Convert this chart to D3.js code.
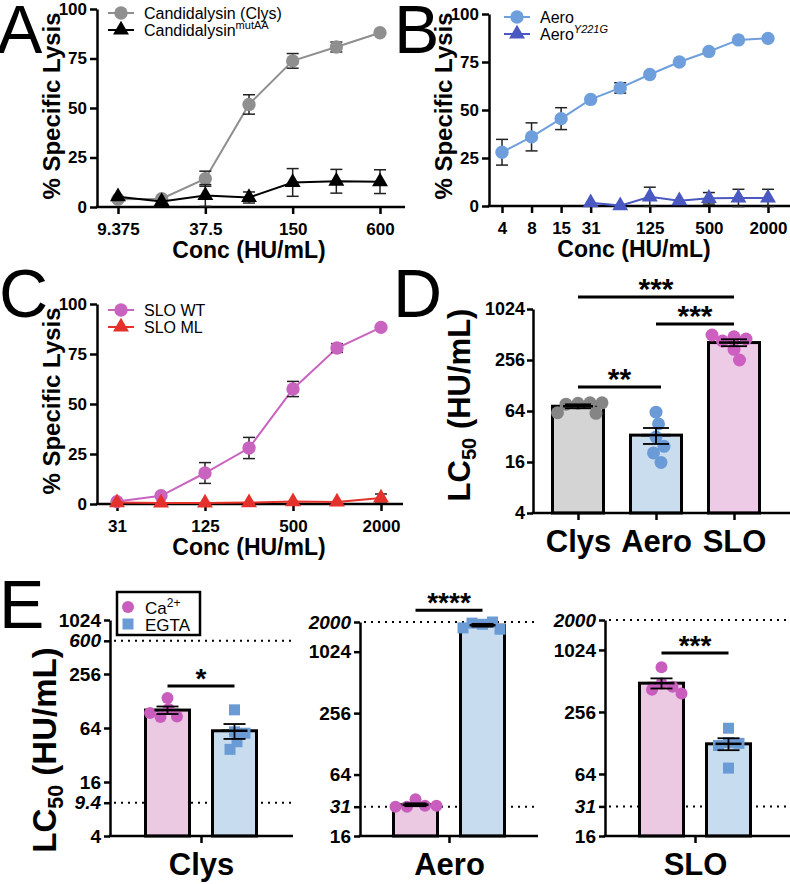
<!DOCTYPE html>
<html>
<head>
<meta charset="utf-8">
<script src="https://cdn.jsdelivr.net/npm/d3@7"></script>
<style>
body { margin: 0; background: #fff; }
svg { display: block; }
</style>
</head>
<body>
<script>
var FONT = "'Liberation Sans', Arial, Helvetica, sans-serif";

// ---------- A: candidalysin
var concA = [9.375, 18.75, 37.5, 75, 150, 300, 600];
var ticksA = [9.375, 37.5, 150, 600];
var tickLabelsA = ["9.375", "37.5", "150", "600"];
var clysLysis = [3.9, 4.2, 14.3, 51.8, 73.8, 80.8, 88];
var clysSem = [0.8, 1, 3.8, 4.9, 3.7, 2.5, 1];
var mutAALysis = [5.2, 2.8, 5.8, 4.8, 12.4, 13, 12.8];
var mutAASem = [1, 0.6, 5.5, 2.8, 7, 6, 6];

// ---------- B: aerolysin
var concB = [3.90625, 7.8125, 15.625, 31.25, 62.5, 125, 250, 500, 1000, 2000];
var ticksB = [3.90625, 7.8125, 15.625, 31.25, 125, 500, 2000];
var tickLabelsB = ["4", "8", "15", "31", "125", "500", "2000"];
var aeroLysis = [28, 36, 45.5, 55.5, 61.5, 68.5, 75, 80.5, 86.5, 87.3];
var aeroSem = [6.7, 7.3, 5.7, 1, 2.7, 1, 1, 1, 1, 1];
var concY221G = [31.25, 62.5, 125, 250, 500, 1000, 2000];
var y221gLysis = [1.7, 0.2, 4.8, 2.8, 4, 4.2, 4.2];
var y221gSem = [0.5, 0.3, 5, 0.5, 3, 4.5, 4.5];

// ---------- C: streptolysin O
var concC = [31.25, 62.5, 125, 250, 500, 1000, 2000];
var ticksC = [31.25, 125, 500, 2000];
var tickLabelsC = ["31", "125", "500", "2000"];
var sloWtLysis = [1.2, 4.1, 15.5, 28, 57.5, 78, 88.3];
var sloWtSem = [0.5, 0.8, 5.2, 5.3, 3.8, 2.2, 1];
var sloMlLysis = [0.7, 0.5, 0.5, 0.7, 1.2, 1, 3];
var sloMlSem = [0.3, 0.3, 0.3, 0.5, 0.8, 0.5, 2];

var lysisTicks = [0, 25, 50, 75, 100];

// ---------- D: LC50 per toxin
var dGroups = ["Clys", "Aero", "SLO"];
var dClys = [79, 80, 77, 80, 61, 60];
var dAero = [62, 45, 31.5, 24.5, 20.5, 15.8];
var dSLO = [482, 453, 429, 505, 342, 256];
var dTicks = [4, 16, 64, 256, 1024];

// ---------- E: LC50 with Ca2+ vs EGTA
var eGroups = ["Ca2+", "EGTA"];
var eClysCa = [138, 104, 85, 86, 94];
var eClysEgta = [102, 58, 56, 45, 37];
var eAeroCa = [36.6, 31.7, 31, 31, 31.7];
var eAeroEgta = [1900, 2000, 1950, 1700, 1750];
var eSloCa = [697, 484, 450, 420, 386];
var eSloEgta = [178, 129, 127, 121, 73];
var eClysTicks = [4, 9.4, 16, 64, 256, 600, 1024];
var eClysTickLabels = ["4", "9.4", "16", "64", "256", "600", "1024"];
var eToxTicks = [16, 31, 64, 256, 1024, 2000];
var eToxTickLabels = ["16", "31", "64", "256", "1024", "2000"];

var svg = d3.select("body").append("svg")
  .attr("width", 790).attr("height", 884)
  .attr("font-family", FONT);

function styleAxis(sel, fs) {
  sel.attr("font-family", FONT).attr("font-size", fs).attr("font-weight", "bold");
  sel.selectAll("line").attr("stroke", "#000").attr("stroke-width", 2.5);
  sel.selectAll("path").attr("stroke", "#000").attr("stroke-width", 2.5);
  sel.selectAll("text").attr("fill", "#000");
}

function letter(t, x, y) {
  svg.append("text").attr("x", x).attr("y", y)
    .attr("font-size", 68).text(t);
}

function hline(x1, x2, y, w) {
  svg.append("line").attr("x1", x1).attr("x2", x2).attr("y1", y).attr("y2", y)
    .attr("stroke", "#000").attr("stroke-width", w || 2.5);
}

// line (dose-response) panel
function linePanel(p) {
  var g = svg.append("g");
  var x = d3.scaleLog().base(2).domain(p.dom).range([p.xFirst, p.xLast]);
  var y = d3.scaleLinear().domain([0, 100]).range([p.y0, p.y100]);

  var xa = g.append("g").attr("transform", "translate(0," + p.y0 + ")")
    .call(d3.axisBottom(x).tickValues(p.ticks)
      .tickFormat(function (d, i) { return p.labels[i]; })
      .tickSize(7).tickPadding(9));
  xa.select(".domain").remove();
  styleAxis(xa, 17);
  g.append("line").attr("x1", p.ax - 1.25).attr("x2", p.xEnd)
    .attr("y1", p.y0).attr("y2", p.y0).attr("stroke", "#000").attr("stroke-width", 2.5);

  var ya = g.append("g").attr("transform", "translate(" + p.ax + ",0)")
    .call(d3.axisLeft(y).tickValues(lysisTicks).tickSize(7).tickSizeOuter(0).tickPadding(3));
  styleAxis(ya, 17);

  p.series.forEach(function (s) {
    var pts = s.conc.map(function (c, i) { return { c: c, m: s.mean[i], e: s.err[i] }; });
    g.append("path").datum(pts)
      .attr("d", d3.line().x(function (d) { return x(d.c); }).y(function (d) { return y(d.m); }))
      .attr("fill", "none").attr("stroke", s.color).attr("stroke-width", 2);
    var eb = g.append("g").attr("stroke", "#222").attr("stroke-width", 1.5);
    pts.filter(function (d) { return d.e > 1.5; }).forEach(function (d) {
      var cx = x(d.c);
      eb.append("line").attr("x1", cx).attr("x2", cx).attr("y1", y(d.m - d.e)).attr("y2", y(d.m + d.e));
      eb.append("line").attr("x1", cx - 6).attr("x2", cx + 6).attr("y1", y(d.m - d.e)).attr("y2", y(d.m - d.e));
      eb.append("line").attr("x1", cx - 6).attr("x2", cx + 6).attr("y1", y(d.m + d.e)).attr("y2", y(d.m + d.e));
    });
    g.append("g").selectAll("path").data(pts).enter().append("path")
      .attr("transform", function (d) { return "translate(" + x(d.c) + "," + y(d.m) + ")"; })
      .attr("d", d3.symbol().type(s.shape).size(s.size))
      .attr("fill", s.color);
  });

  // legend
  p.series.forEach(function (s, i) {
    var ly = p.legY + i * 17;
    g.append("line").attr("x1", p.legX - 13).attr("x2", p.legX + 13).attr("y1", ly).attr("y2", ly)
      .attr("stroke", s.color).attr("stroke-width", 2);
    g.append("path").attr("transform", "translate(" + p.legX + "," + ly + ")")
      .attr("d", d3.symbol().type(s.shape).size(s.size)).attr("fill", s.color);
    var t = g.append("text").attr("x", p.legX + 23).attr("y", ly + 6).attr("font-size", 16);
    t.append("tspan").text(s.name);
    if (s.sup) {
      t.append("tspan").attr("dy", -7).attr("font-size", 11)
        .attr("font-style", s.supItalic ? "italic" : null).text(s.sup);
    }
  });

  g.append("text").attr("transform", "translate(" + p.ylabX + "," + p.ylabY + ") rotate(-90)")
    .attr("text-anchor", "middle").attr("font-size", 24).attr("font-weight", "bold")
    .text("% Specific Lysis");
  g.append("text").attr("x", p.xlabX).attr("y", p.y0 + 51)
    .attr("text-anchor", "middle").attr("font-size", 23).attr("font-weight", "bold")
    .text("Conc (HU/mL)");
}

// simple beeswarm: keep the y from the value, push x sideways until points do not overlap
function swarm(vals, y, cx, r) {
  var placed = [];
  return vals.map(function (v) {
    var yy = y(v), dx = 0;
    for (var k = 0; k < 400; k++) {
      dx = (k % 2 ? 1 : -1) * Math.ceil(k / 2) * 0.5;
      var ok = placed.every(function (q) {
        return Math.hypot(q.x - (cx + dx), q.y - yy) >= 2 * r * 0.92;
      });
      if (ok) break;
    }
    var pt = { x: cx + dx, y: yy, v: v };
    placed.push(pt);
    return pt;
  });
}

function sem(vals) { return d3.deviation(vals) / Math.sqrt(vals.length); }

function barWithPoints(g, vals, cx, y, yBase, bw, fill, ptColor, shape, r, capW) {
  var m = d3.mean(vals), e = sem(vals);
  g.append("rect").attr("x", cx - bw / 2).attr("width", bw)
    .attr("y", y(m)).attr("height", yBase - y(m))
    .attr("fill", fill).attr("stroke", "#000").attr("stroke-width", 3);
  var pts = swarm(vals, y, cx, r);
  if (shape === "square") {
    g.append("g").selectAll("rect").data(pts).enter().append("rect")
      .attr("x", function (d) { return d.x - r; }).attr("y", function (d) { return d.y - r; })
      .attr("width", 2 * r).attr("height", 2 * r).attr("fill", ptColor);
  } else {
    g.append("g").selectAll("circle").data(pts).enter().append("circle")
      .attr("cx", function (d) { return d.x; }).attr("cy", function (d) { return d.y; })
      .attr("r", r).attr("fill", ptColor);
  }
  var eg = g.append("g").attr("stroke", "#000").attr("stroke-width", 1.8);
  eg.append("line").attr("x1", cx).attr("x2", cx).attr("y1", y(m - e)).attr("y2", y(m + e));
  eg.append("line").attr("x1", cx - capW / 2).attr("x2", cx + capW / 2).attr("y1", y(m - e)).attr("y2", y(m - e));
  eg.append("line").attr("x1", cx - capW / 2).attr("x2", cx + capW / 2).attr("y1", y(m + e)).attr("y2", y(m + e));
  eg.append("line").attr("x1", cx - capW / 2 - 2).attr("x2", cx + capW / 2 + 2).attr("y1", y(m)).attr("y2", y(m))
    .attr("stroke-width", 2.5);
}

function sigBar(g, x1, x2, yy, label, fs) {
  g.append("line").attr("x1", x1).attr("x2", x2).attr("y1", yy).attr("y2", yy)
    .attr("stroke", "#000").attr("stroke-width", 3);
  g.append("text").attr("x", (x1 + x2) / 2).attr("y", yy + 2)
    .attr("text-anchor", "middle").attr("font-size", fs).attr("font-weight", "bold").text(label);
}

function lcLabel(x, y, fs) {
  var t = svg.append("text").attr("transform", "translate(" + x + "," + y + ") rotate(-90)")
    .attr("text-anchor", "middle").attr("font-size", fs).attr("font-weight", "bold");
  t.append("tspan").text("LC");
  t.append("tspan").attr("font-size", fs * 0.65).attr("dy", fs * 0.2).text("50");
  t.append("tspan").attr("dy", -fs * 0.2).text(" (HU/mL)");
}

// ---------- Panels A-C
linePanel({
  dom: [9.375, 600], xFirst: 118, xLast: 380, ax: 97, xEnd: 405, y0: 207, y100: 9,
  ticks: ticksA, labels: tickLabelsA, legX: 121, legY: 13,
  ylabX: 60, ylabY: 106, xlabX: 249,
  series: [
    { name: "Candidalysin (Clys)", conc: concA, mean: clysLysis, err: clysSem, color: "#8f8f8f", shape: d3.symbolCircle, size: 140 },
    { name: "Candidalysin", sup: "mutAA", conc: concA, mean: mutAALysis, err: mutAASem, color: "#000", shape: d3.symbolTriangle, size: 110 }
  ]
});
linePanel({
  dom: [3.90625, 2000], xFirst: 502, xLast: 768, ax: 489, xEnd: 790, y0: 206, y100: 14,
  ticks: ticksB, labels: tickLabelsB, legX: 517, legY: 17,
  ylabX: 452, ylabY: 106, xlabX: 634,
  series: [
    { name: "Aero", conc: concB, mean: aeroLysis, err: aeroSem, color: "#6e9fdc", shape: d3.symbolCircle, size: 140 },
    { name: "Aero", sup: "Y221G", supItalic: true, conc: concY221G, mean: y221gLysis, err: y221gSem, color: "#4a58c2", shape: d3.symbolTriangle, size: 110 }
  ]
});
linePanel({
  dom: [31.25, 2000], xFirst: 117, xLast: 381, ax: 97, xEnd: 403, y0: 504, y100: 304,
  ticks: ticksC, labels: tickLabelsC, legX: 121, legY: 310,
  ylabX: 60, ylabY: 401, xlabX: 249,
  series: [
    { name: "SLO WT", conc: concC, mean: sloWtLysis, err: sloWtSem, color: "#c963c0", shape: d3.symbolCircle, size: 140 },
    { name: "SLO ML", conc: concC, mean: sloMlLysis, err: sloMlSem, color: "#e5312b", shape: d3.symbolTriangle, size: 110 }
  ]
});

// ---------- Panel D
(function () {
  var g = svg.append("g");
  var y = d3.scaleLog().base(2).domain([4, 1024]).range([513, 309]);
  var x = d3.scalePoint().domain(dGroups).range([578, 734]);
  var ya = g.append("g").attr("transform", "translate(533,0)")
    .call(d3.axisLeft(y).tickValues(dTicks).tickFormat(d3.format("d")).tickSize(6).tickSizeOuter(0).tickPadding(2));
  styleAxis(ya, 18);
  var fills = ["#d4d4d4", "#c9ddef", "#edcae5"];
  var cols = ["#858585", "#6b9bd6", "#cc5fbf"];
  [dClys, dAero, dSLO].forEach(function (vals, i) {
    barWithPoints(g, vals, x(dGroups[i]), y, 513, 51, fills[i], cols[i], "circle", 6.5, 26);
  });
  var xa = g.append("g").attr("transform", "translate(0,513)")
    .call(d3.axisBottom(x).tickSize(7).tickPadding(10));
  xa.select(".domain").remove();
  styleAxis(xa, 31);
  g.append("line").attr("x1", 531.75).attr("x2", 790).attr("y1", 513).attr("y2", 513)
    .attr("stroke", "#000").attr("stroke-width", 2.5);
  sigBar(g, x("Clys"), x("SLO"), y(1420), "***", 30);
  sigBar(g, x("Aero"), x("SLO"), y(680), "***", 30);
  sigBar(g, x("Clys"), x("Aero") + 5, y(123), "**", 30);
  lcLabel(470, 405, 31);
})();

// ---------- Panel E
function ePanel(o) {
  var g = svg.append("g");
  var y = d3.scaleLog().base(2).domain(o.dom).range([o.y0, o.yTop]);
  var x = d3.scalePoint().domain(eGroups).range([o.cx - 33.5, o.cx + 33.5]);
  o.refs.forEach(function (v) {
    g.append("line").attr("x1", o.ax + 4).attr("x2", o.axEnd).attr("y1", y(v)).attr("y2", y(v))
      .attr("stroke", "#000").attr("stroke-width", 2).attr("stroke-dasharray", "2,5");
  });
  var ya = g.append("g").attr("transform", "translate(" + o.ax + ",0)")
    .call(d3.axisLeft(y).tickValues(o.ticks)
      .tickFormat(function (d, i) { return o.labels[i]; })
      .tickSize(6).tickSizeOuter(0).tickPadding(3));
  styleAxis(ya, 19);
  ya.selectAll(".tick text").attr("font-style", function (d) { return o.refs.indexOf(d) >= 0 ? "italic" : null; });
  barWithPoints(g, o.ca, x("Ca2+"), y, o.y0, 44, "#ebc9e3", "#c85dbe", "circle", 6, 22);
  barWithPoints(g, o.egta, x("EGTA"), y, o.y0, 44, "#c8dcef", "#6a9bd5", "square", 5.5, 22);
  var xt = d3.scalePoint().domain([o.name]).range([o.cx, o.cx]);
  var xa = g.append("g").attr("transform", "translate(0," + o.y0 + ")")
    .call(d3.axisBottom(xt).tickSize(7).tickPadding(10));
  xa.select(".domain").remove();
  styleAxis(xa, 31);
  g.append("line").attr("x1", o.ax - 1.25).attr("x2", o.axEnd).attr("y1", o.y0).attr("y2", o.y0)
    .attr("stroke", "#000").attr("stroke-width", 2.5);
  sigBar(g, x("Ca2+"), x("EGTA"), y(o.sig), o.stars, 28);
}

ePanel({ name: "Clys", dom: [4, 1024], y0: 836, yTop: 620, ax: 110, axEnd: 293, cx: 201,
  ticks: eClysTicks, labels: eClysTickLabels, refs: [600, 9.4], ca: eClysCa, egta: eClysEgta, sig: 188, stars: "*" });
ePanel({ name: "Aero", dom: [16, 2000], y0: 836, yTop: 622, ax: 360, axEnd: 538, cx: 449,
  ticks: eToxTicks, labels: eToxTickLabels, refs: [2000, 31], ca: eAeroCa, egta: eAeroEgta, sig: 2610, stars: "****" });
ePanel({ name: "SLO", dom: [16, 2000], y0: 836, yTop: 620, ax: 605, axEnd: 790, cx: 695,
  ticks: eToxTicks, labels: eToxTickLabels, refs: [2000, 31], ca: eSloCa, egta: eSloEgta, sig: 954, stars: "***" });

// E legend
(function () {
  var g = svg.append("g");
  g.append("rect").attr("x", 117).attr("y", 592).attr("width", 83).attr("height", 43)
    .attr("fill", "#fff").attr("stroke", "#000").attr("stroke-width", 2.5);
  g.append("circle").attr("cx", 128).attr("cy", 607).attr("r", 6).attr("fill", "#c85dbe");
  g.append("rect").attr("x", 122.5).attr("y", 618.5).attr("width", 11).attr("height", 11).attr("fill", "#6a9bd5");
  var t = g.append("text").attr("x", 145).attr("y", 614).attr("font-size", 17);
  t.append("tspan").text("Ca");
  t.append("tspan").attr("dy", -7).attr("font-size", 12).text("2+");
  g.append("text").attr("x", 145).attr("y", 631).attr("font-size", 17).text("EGTA");
})();
lcLabel(56, 750, 33);

letter("A", -3, 53);
letter("B", 394, 53);
letter("C", -1, 317);
letter("D", 393, 317);
letter("E", -1, 628);
</script>
</body>
</html>
